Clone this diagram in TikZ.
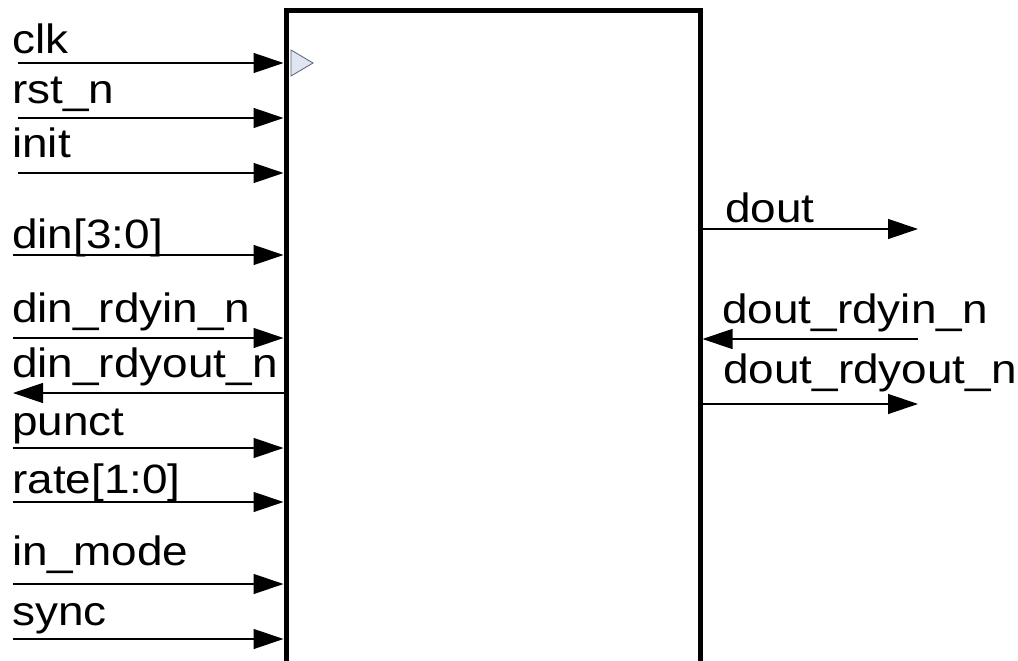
\documentclass[tikz,border=0pt]{standalone}
\usepackage{fontspec}
\setmainfont{Liberation Sans}
\usetikzlibrary{arrows.meta}
\definecolor{clkfill}{HTML}{DFE6F2}
\definecolor{clkline}{HTML}{5A6070}
\newcommand{\sx}[1]{\scalebox{1.12}[1]{#1}}
\begin{document}
\begin{tikzpicture}[x=1pt,y=-1pt,
  sig/.style={line width=1.3pt, -{Triangle[length=30pt,width=20pt]}},
  lbl/.style={anchor=base west, inner sep=0pt, font=\fontsize{41}{41}\selectfont},
  blk/.style={draw, line width=5pt, minimum width=414pt, minimum height=700pt, anchor=north west, inner sep=0pt}]
\useasboundingbox (0,0) rectangle (1018,661);
\clip (0,0) rectangle (1018,661);
\node[blk] (blk) at (283.5,8.5) {};
% clock marker
\draw[fill=clkfill, draw=clkline, line width=0.8pt] (291,50) -- (313,63) -- (291,76) -- cycle;
% left inputs
\coordinate (sclk) at (18,63);
\coordinate (srst) at (18,118);
\coordinate (sinit) at (18,173);
\coordinate (sdin) at (13,255);
\coordinate (srdyin) at (13,338);
\coordinate (srdyout) at (13,393);
\coordinate (spunct) at (13,448);
\coordinate (srate) at (13,502);
\coordinate (smode) at (13,584);
\coordinate (ssync) at (13,639);
\foreach \s in {sclk,srst,sinit,sdin,srdyin,spunct,srate,smode,ssync}
  \draw[sig] (\s) -- (\s -| blk.west);
\draw[sig] (srdyout -| blk.west) -- (srdyout);
% right side
\coordinate (edout) at (918,229);
\coordinate (erdyin) at (918,339);
\coordinate (erdyout) at (918,404);
\draw[sig] (edout -| blk.east) -- (edout);
\draw[sig] (erdyin) -- (erdyin -| blk.east);
\draw[sig] (erdyout -| blk.east) -- (erdyout);
% labels
\node[lbl] (lclk) at (12,54) {\sx{clk}};
\node[lbl] (lrst) at (12,103) {\sx{rst\_n}};
\node[lbl] (linit) at (12,157) {\sx{init}};
\node[lbl] (ldin) at (12,248) {\sx{din[3:0]}};
\node[lbl] (lrdyin) at (12,322) {\sx{din\_rdyin\_n}};
\node[lbl] (lrdyout) at (12,377) {\sx{din\_rdyout\_n}};
\node[lbl] (lpunct) at (12,435) {\sx{punct}};
\node[lbl] (lrate) at (12,493) {\sx{rate[1:0]}};
\node[lbl] (lmode) at (12,565) {\sx{in\_mode}};
\node[lbl] (lsync) at (12,625) {\sx{sync}};
\node[lbl] (ldout) at (725,222) {\sx{dout}};
\node[lbl] (lordyin) at (722,323) {\sx{dout\_rdyin\_n}};
\node[lbl] (lordyout) at (723,383) {\sx{dout\_rdyout\_n}};
\end{tikzpicture}
\end{document}
